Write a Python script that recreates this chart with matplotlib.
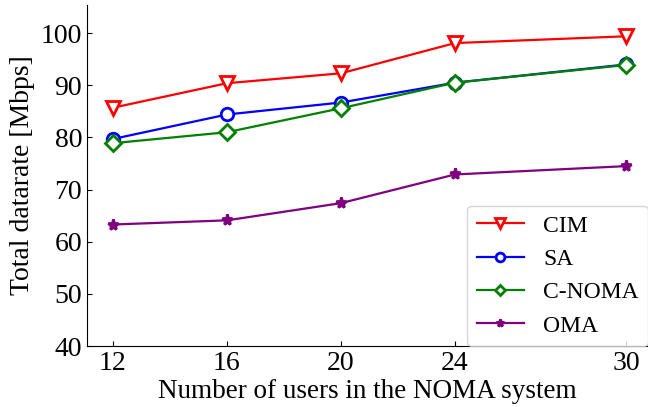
import matplotlib
matplotlib.use("Agg")
import matplotlib.pyplot as plt

users = [12, 16, 20, 24, 30]
cim = [85.7, 90.4, 92.3, 98.1, 99.4]
sa = [79.7, 84.4, 86.7, 90.5, 94.0]
cnoma = [78.9, 81.0, 85.6, 90.5, 93.9]
oma = [63.3, 64.1, 67.4, 72.9, 74.5]
yticks = [40, 50, 60, 70, 80, 90, 100]

plt.rcParams['font.family'] = ['Liberation Serif', 'DejaVu Serif']

fig = plt.figure(figsize=(6.48, 4.07), dpi=100)
ax = fig.add_axes([87/648, 61/407, 561/648, 341/407])

ax.plot(users, cim, color='red', marker='v', markersize=10, markerfacecolor='white',
        markeredgewidth=2, linewidth=1.6, label='CIM')
ax.plot(users, sa, color='blue', marker='o', markersize=9, markerfacecolor='white',
        markeredgewidth=2, linewidth=1.6, label='SA')
ax.plot(users, cnoma, color='green', marker='D', markersize=8, markerfacecolor='white',
        markeredgewidth=2, linewidth=1.6, label='C-NOMA')
ax.plot(users, oma, color='purple', marker='*', markersize=8,
        markeredgewidth=2, linewidth=1.6, label='OMA')

ax.set_xlim(11.09, 30.77)
ax.set_ylim(40, 105.4)
ax.set_xticks(users)
ax.set_yticks(yticks)
ax.tick_params(direction='in', labelsize=20)
ax.spines['top'].set_visible(False)
ax.spines['right'].set_visible(False)
ax.set_xlabel('Number of users in the NOMA system', fontsize=19.5, labelpad=2)
ax.set_ylabel('Total datarate [Mbps]', fontsize=20, labelpad=4)

ax.legend(loc='lower right', fontsize=17, markerscale=0.7, borderaxespad=0)

fig.savefig('out.png', dpi=100)
